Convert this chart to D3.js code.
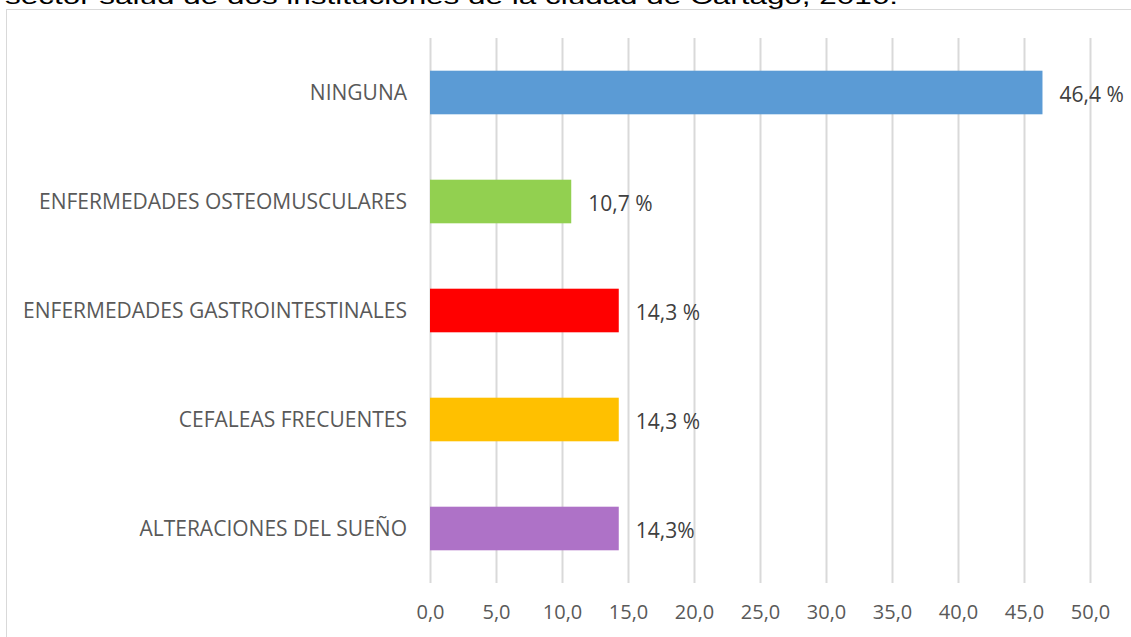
<!DOCTYPE html>
<html>
<head>
<meta charset="utf-8">
<script src="https://cdn.jsdelivr.net/npm/d3@7"></script>
<style>
  body { margin: 0; background: #fff; }
  svg { display: block; }
</style>
</head>
<body>
<div id="chart"></div>
<script>
var categories = ["NINGUNA", "ENFERMEDADES OSTEOMUSCULARES", "ENFERMEDADES GASTROINTESTINALES", "CEFALEAS FRECUENTES", "ALTERACIONES DEL SUEÑO"];
var values = [46.4, 10.7, 14.3, 14.3, 14.3];
var valueLabels = ["46,4 %", "10,7 %", "14,3 %", "14,3 %", "14,3%"];
var colour = ["#5B9BD5", "#92D050", "#FF0000", "#FFC000", "#AE72C7"];
var ticks = [0, 5, 10, 15, 20, 25, 30, 35, 40, 45, 50];
var title = "sector salud de dos instituciones de la ciudad de Cartago, 2016.";

var width = 1131;
var height = 637;
var font = "'Open Sans', sans-serif";

var svg = d3.select("#chart")
    .append("svg")
    .attr("width", width)
    .attr("height", height);

// clipped title line from the document above the chart
svg.append("text")
    .attr("x", 5)
    .attr("y", 4)
    .attr("textLength", 893)
    .attr("lengthAdjust", "spacingAndGlyphs")
    .style("font-family", "'Liberation Sans', Arial, sans-serif")
    .style("font-size", "22px")
    .style("fill", "#000")
    .text(title);

// chart frame
svg.append("rect")
    .attr("x", 6.5)
    .attr("y", 9.5)
    .attr("width", 1140)
    .attr("height", 640)
    .style("fill", "none")
    .style("stroke", "#D9D9D9")
    .style("stroke-width", 1);

var x = d3.scaleLinear().domain([0, 50]).range([430, 1090]);
var y = d3.scaleBand().domain(categories).range([38, 583]).paddingInner(0.6).paddingOuter(0.3);

var axis = d3.axisBottom(x)
    .tickValues(ticks)
    .tickSize(583 - 38)
    .tickFormat(function (d) { return d.toFixed(1).replace(".", ","); });

var gx = svg.append("g")
    .attr("transform", "translate(0,38)")
    .call(axis);

gx.select(".domain").remove();
gx.selectAll(".tick line")
    .style("stroke", "#D9D9D9")
    .style("stroke-width", 2);
gx.selectAll(".tick text")
    .attr("y", 619 - 38)
    .attr("dy", 0)
    .style("fill", "#595959")
    .style("font-family", font)
    .style("font-size", "20px");

svg.selectAll(".bar")
    .data(values)
    .enter()
    .append("rect")
    .attr("class", "bar")
    .attr("x", x(0))
    .attr("y", function (d, i) { return y(categories[i]); })
    .attr("width", function (d) { return x(d) - x(0); })
    .attr("height", y.bandwidth())
    .style("fill", function (d, i) { return colour[i]; });

svg.selectAll(".cat")
    .data(categories)
    .enter()
    .append("text")
    .attr("class", "cat")
    .attr("x", 407)
    .attr("y", function (d) { return y(d) + y.bandwidth() / 2; })
    .attr("dy", "0.35em")
    .attr("text-anchor", "end")
    .style("fill", "#595959")
    .style("font-family", font)
    .style("font-size", "21px")
    .text(function (d) { return d; });

svg.selectAll(".val")
    .data(values)
    .enter()
    .append("text")
    .attr("class", "val")
    .attr("x", function (d) { return x(d) + 17; })
    .attr("y", function (d, i) { return y(categories[i]) + y.bandwidth() / 2 + 2; })
    .attr("dy", "0.35em")
    .style("fill", "#404040")
    .style("font-family", font)
    .style("font-size", "21px")
    .text(function (d, i) { return valueLabels[i]; });
</script>
</body>
</html>
